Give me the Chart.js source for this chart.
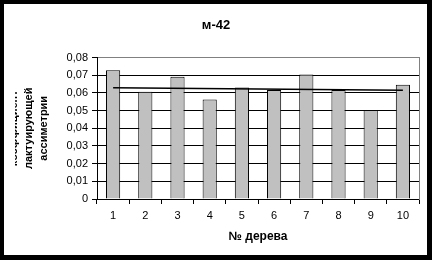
<!DOCTYPE html>
<html>
<head>
<meta charset="utf-8">
<script src="https://cdn.jsdelivr.net/npm/chart.js@4"></script>
<style>
  html, body { margin: 0; padding: 0; background: #000; }
  #frame { position: absolute; left: 4px; top: 4px; width: 423px; height: 251px; background: #fff; }
  #wrap { position: absolute; left: 11px; top: 0; width: 412px; height: 251px; }
</style>
</head>
<body>
<div id="frame"><div id="wrap"><canvas id="chart"></canvas></div></div>
<script>
const trees = ['1', '2', '3', '4', '5', '6', '7', '8', '9', '10'];
const asymmetry = [0.0728, 0.0607, 0.0692, 0.0563, 0.0631, 0.0616, 0.0705, 0.0616, 0.0504, 0.0646];
const trend = [0.0629, null, null, null, null, null, null, null, null, 0.0615];
const yTicks = [0, 0.01, 0.02, 0.03, 0.04, 0.05, 0.06, 0.07, 0.08];

const font = 'Liberation Sans, Arial, sans-serif';

const ctx = document.getElementById('chart').getContext('2d');
new Chart(ctx, {
  data: {
    labels: trees,
    datasets: [{
      type: 'bar',
      data: asymmetry,
      backgroundColor: '#c0c0c0',
      borderColor: '#000',
      borderWidth: 1,
      barPercentage: 0.44,
      categoryPercentage: 1,
      order: 1
    }, {
      type: 'line',
      data: trend,
      borderColor: '#000',
      borderWidth: 1.5,
      pointRadius: 0,
      spanGaps: true,
      order: 0
    }]
  },
  options: {
    responsive: true,
    maintainAspectRatio: false,
    animation: false,
    layout: { padding: { left: -2, right: 8, top: 0, bottom: 0 } },
    plugins: {
      legend: { display: false },
      tooltip: { enabled: false },
      title: {
        display: true,
        text: 'м-42',
        color: '#000',
        font: { family: font, size: 13, weight: 'bold', lineHeight: 1.2 },
        padding: { top: 14, bottom: 24 }
      }
    },
    scales: {
      x: {
        offset: true,
        grid: { drawOnChartArea: false, color: '#000', tickLength: 5, offset: true },
        border: { color: '#000', width: 1 },
        ticks: { color: '#000', font: { family: font, size: 11 }, padding: 5, maxRotation: 0 },
        title: {
          display: true,
          text: '№ дерева',
          color: '#000',
          font: { family: font, size: 12, weight: 'bold', lineHeight: 1.2 },
          padding: { top: 0, bottom: 10.8 }
        },
        afterFit: (scale) => { scale.height = 56; }
      },
      y: {
        min: 0,
        max: 0.08,
        afterBuildTicks: (scale) => { scale.ticks = yTicks.map(v => ({ value: v })); },
        grid: {
          color: (c) => (c.tick && c.tick.value === 0.08 ? '#808080' : '#000'),
          tickColor: '#000',
          tickLength: 5
        },
        border: { color: '#000', width: 1 },
        ticks: {
          color: '#000',
          font: { family: font, size: 11 },
          padding: 4,
          callback: (v) => (v === 0 ? '0' : v.toFixed(2).replace('.', ','))
        },
        title: {
          display: true,
          text: ['коэффициент', 'лактуирующей', 'ассиметрии'],
          color: '#000',
          font: { family: font, size: 11, weight: 'bold', lineHeight: 1.36 },
          padding: { top: -6.5, bottom: 0 }
        },
        afterFit: (scale) => { scale.width = 84; }
      },
      y2: {
        position: 'right',
        min: 0,
        max: 0.08,
        grid: { display: false, drawTicks: false },
        ticks: { display: false },
        border: { display: true, color: '#808080', width: 1 },
        afterFit: (scale) => { scale.width = 0; }
      }
    }
  }
});
</script>
</body>
</html>
